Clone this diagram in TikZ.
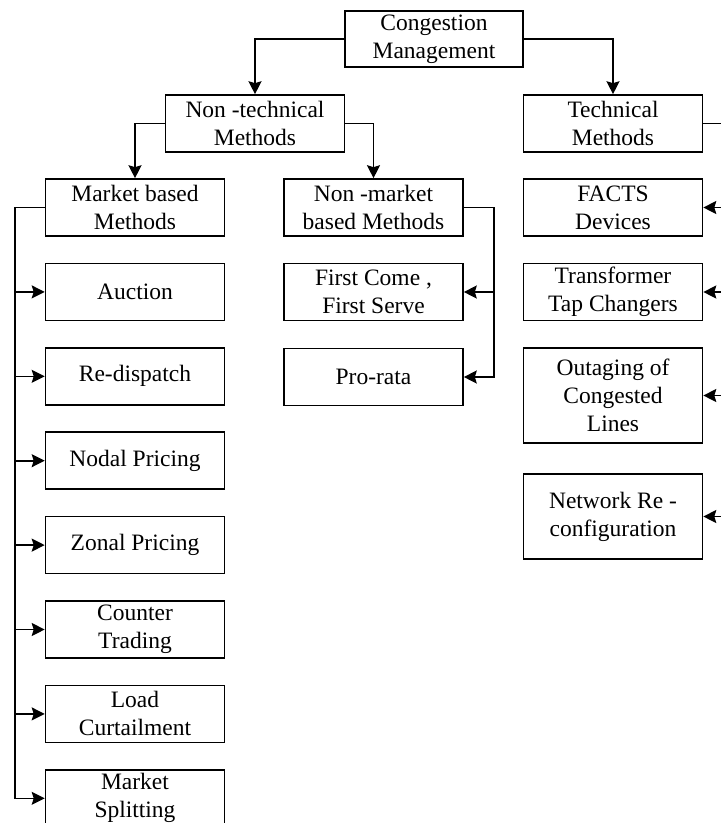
\documentclass[tikz,border=0pt]{standalone}
\usepackage{fontspec}
\setmainfont{Liberation Serif}
\usetikzlibrary{arrows.meta}
\begin{document}
\begin{tikzpicture}[x=1pt,y=-1pt,
	box/.style={draw,line width=1.6pt,align=center,inner sep=0pt,minimum width=179pt,minimum height=57pt,font=\fontsize{23.5}{28}\selectfont},
	arr/.style={-{Stealth[length=13pt,width=13pt,inset=2pt]},line width=1.6pt}]
			\useasboundingbox (0,0) rectangle (721,823);
			\clip (0,0) rectangle (721,823);
			% top levels
			\node[box,minimum width=178pt,minimum height=56pt] (cm) at (434,39) {Congestion\\Management};
			\node[box] (ntm) at (255,123.5) {Non -technical\\Methods};
			\node[box] (tm) at (613,123.5) {Technical\\Methods};
			\node[box] (mbm) at (135,207.5) {Market based\\Methods};
			\node[box] (nmbm) at (373.5,207.5) {Non -market\\based Methods};
			% market based
			\foreach \t [count=\k] in {Auction,Re-dispatch,Nodal Pricing,Zonal Pricing,{Counter\\Trading},{Load\\Curtailment},{Market\\Splitting}}{
				\node[box] (m\k) at (135,207.5+84.4*\k) {\t};
			}
			% non-market based
			\node[box] (fcfs) at (373.5,292) {First Come ,\\First Serve};
			\node[box] (prorata) at (373.5,377) {Pro-rata};
			% technical
			\node[box] (facts) at (613,207.5) {FACTS\\Devices};
			\node[box] (tap) at (613,292) {Transformer\\Tap Changers};
			\node[box,minimum height=95pt] (outage) at (613,395.5) {Outaging of\\Congested\\Lines};
			\node[box,minimum height=85pt] (netcfg) at (613,516.5) {Network Re -\\configuration};

			\draw[arr] (cm.west) -| (ntm.north);
			\draw[arr] (cm.east) -| (tm.north);
			\draw[arr] (ntm.west) -| (mbm.north);
			\draw[arr] (ntm.east) -| (nmbm.north);
			\foreach \k in {1,...,7}{
				\draw[arr] (mbm.west) -- ++(-30,0) |- (m\k.west);
			}
			\foreach \n in {fcfs,prorata}{
				\draw[arr] (nmbm.east) -- ++(30,0) |- (\n.east);
			}
			\foreach \n in {facts,tap,outage,netcfg}{
				\draw[arr] (tm.east) -- ++(28,0) |- (\n.east);
			}
			\end{tikzpicture}
\end{document}
